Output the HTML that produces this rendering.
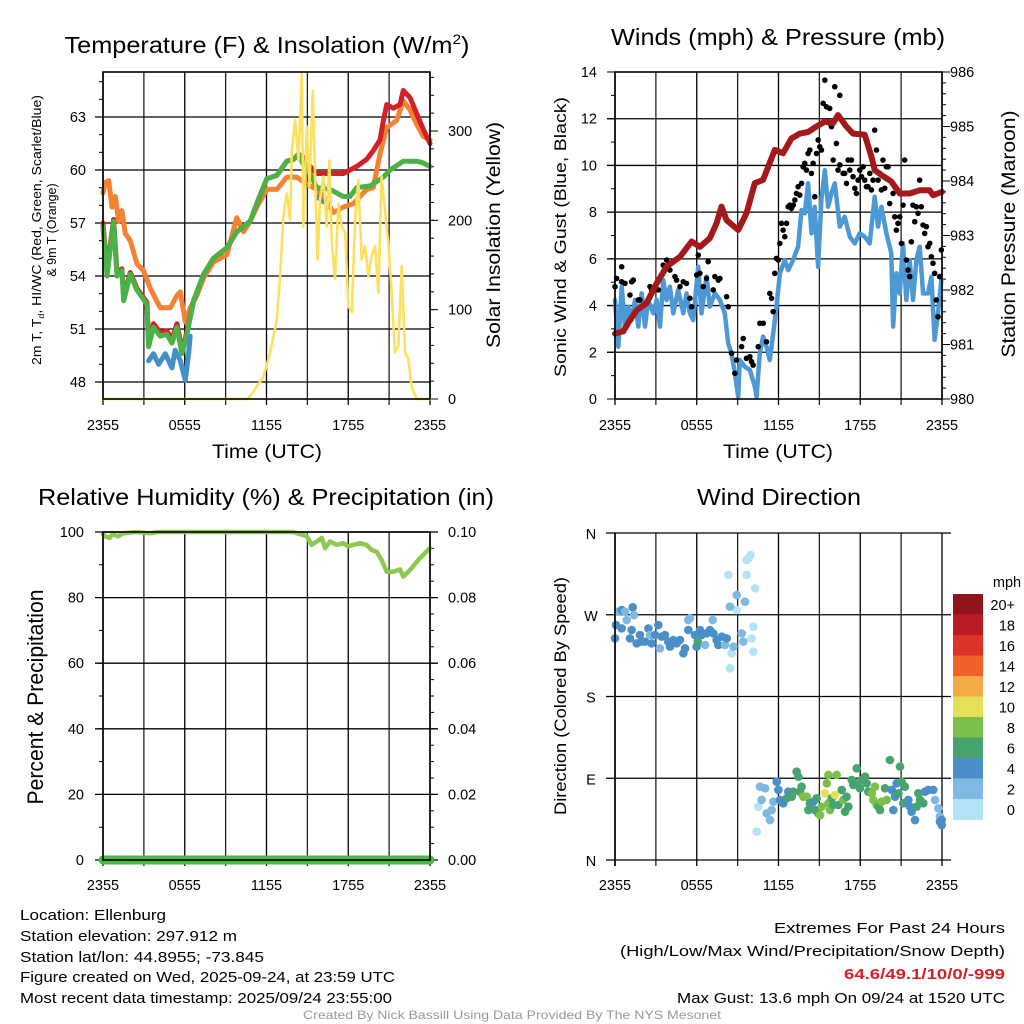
<!DOCTYPE html>
<html><head><meta charset="utf-8"><title>Ellenburg Meteogram</title>
<style>
html,body{margin:0;padding:0;background:#fff;}
svg{display:block;font-family:"Liberation Sans",Arial,sans-serif;}
</style></head>
<body>
<svg id="chart" width="1024" height="1024" viewBox="0 0 1024 1024" xmlns="http://www.w3.org/2000/svg">
<rect x="0" y="0" width="1024" height="1024" fill="#fff"/>
<!-- Titles -->
<text x="267" y="53" font-size="23" text-anchor="middle" textLength="405" lengthAdjust="spacingAndGlyphs">Temperature (F) &amp; Insolation (W/m<tspan font-size="14" dy="-9">2</tspan><tspan dy="9">)</tspan></text>
<text x="778" y="45" font-size="23" text-anchor="middle" textLength="334" lengthAdjust="spacingAndGlyphs">Winds (mph) &amp; Pressure (mb)</text>
<text x="266" y="505" font-size="23" text-anchor="middle" textLength="456" lengthAdjust="spacingAndGlyphs">Relative Humidity (%) &amp; Precipitation (in)</text>
<text x="779" y="505" font-size="23" text-anchor="middle" textLength="164" lengthAdjust="spacingAndGlyphs">Wind Direction</text>
<!-- Axis titles -->
<text transform="translate(41,230) rotate(-90)" font-size="12.5" text-anchor="middle" textLength="270" lengthAdjust="spacingAndGlyphs">2m T, T<tspan font-size="8" dy="3">d</tspan><tspan dy="-3">, HI/WC (Red, Green, Scarlet/Blue)</tspan></text>
<text transform="translate(56,230) rotate(-90)" font-size="12.5" text-anchor="middle">&amp; 9m T (Orange)</text>
<text transform="translate(500,235) rotate(-90)" font-size="19" text-anchor="middle" textLength="226" lengthAdjust="spacingAndGlyphs">Solar Insolation (Yellow)</text>
<text transform="translate(566,237) rotate(-90)" font-size="17" text-anchor="middle" textLength="280" lengthAdjust="spacingAndGlyphs">Sonic Wind &amp; Gust (Blue, Black)</text>
<text transform="translate(1015,234) rotate(-90)" font-size="19" text-anchor="middle" textLength="247" lengthAdjust="spacingAndGlyphs">Station Pressure (Maroon)</text>
<text transform="translate(43,697) rotate(-90)" font-size="22" text-anchor="middle" textLength="215" lengthAdjust="spacingAndGlyphs">Percent &amp; Precipitation</text>
<text transform="translate(566,696) rotate(-90)" font-size="17" text-anchor="middle" textLength="238" lengthAdjust="spacingAndGlyphs">Direction (Colored By Speed)</text>
<text x="267" y="458" font-size="19" text-anchor="middle" textLength="110" lengthAdjust="spacingAndGlyphs">Time (UTC)</text>
<text x="778" y="458" font-size="19" text-anchor="middle" textLength="110" lengthAdjust="spacingAndGlyphs">Time (UTC)</text>
<!-- Footer -->
<g font-size="15">
<text x="20" y="920" textLength="146" lengthAdjust="spacingAndGlyphs">Location: Ellenburg</text>
<text x="20" y="941" textLength="217" lengthAdjust="spacingAndGlyphs">Station elevation: 297.912 m</text>
<text x="20" y="962" textLength="244" lengthAdjust="spacingAndGlyphs">Station lat/lon: 44.8955; -73.845</text>
<text x="20" y="982" textLength="375" lengthAdjust="spacingAndGlyphs">Figure created on Wed, 2025-09-24, at 23:59 UTC</text>
<text x="20" y="1003" textLength="372" lengthAdjust="spacingAndGlyphs">Most recent data timestamp: 2025/09/24 23:55:00</text>
</g>
<g font-size="15" text-anchor="end">
<text x="1005" y="933" textLength="231" lengthAdjust="spacingAndGlyphs">Extremes For Past 24 Hours</text>
<text x="1005" y="956" textLength="385" lengthAdjust="spacingAndGlyphs">(High/Low/Max Wind/Precipitation/Snow Depth)</text>
<text x="1005" y="979" fill="#d42027" font-weight="bold" textLength="161" lengthAdjust="spacingAndGlyphs">64.6/49.1/10/0/-999</text>
<text x="1005" y="1003" textLength="328" lengthAdjust="spacingAndGlyphs">Max Gust: 13.6 mph On 09/24 at 1520 UTC</text>
</g>
<text x="512" y="1019" font-size="12" fill="#999" text-anchor="middle" textLength="418" lengthAdjust="spacingAndGlyphs">Created By Nick Bassill Using Data Provided By The NYS Mesonet</text>
</svg>
<script>
// ---------- DATA ----------
const timeTickHours = [0,3,6,9,12,15,18,21,24];
const timeTickLabels = ['2355','','0555','','1155','','1755','','2355'];
const tempTicks = [48,51,54,57,60,63];
const insolTicks = [0,100,200,300];
const windTicks = [0,2,4,6,8,10,12,14];
const pressTicks = [980,981,982,983,984,985,986];
const rhTicks = [0,20,40,60,80,100];
const precipTicks = ['0.00','0.02','0.04','0.06','0.08','0.10'];
const dirTickDeg = [0,90,180,270,360];
const dirTickLabels = ['N','E','S','W','N'];
const speedBinLabels = ['0','2','4','6','8','10','12','14','16','18','20+'];

const tempGreen = [[0,56.8],[0.3,54.0],[0.54,55.6],[0.78,57.1],[1.03,54.0],[1.39,54.3],[1.52,52.6],[2.0,54.1],[2.49,53.2],[3.23,52.4],[3.35,50.0],[3.71,51.1],[4.2,50.6],[4.69,50.7],[5.06,50.2],[5.43,51.1],[5.79,49.6],[6.16,50.7],[6.65,52.6],[7.38,54.1],[8.11,55.0],[9.09,55.6],[9.82,56.5],[10.31,56.8],[10.8,57.1],[11.29,58.1],[12.02,59.5],[12.76,59.7],[13.49,60.5],[13.98,60.6],[14.35,60.9],[14.71,60.3],[15.2,59.8],[15.69,59.0],[16.67,58.9],[17.64,58.5],[18.13,58.5],[18.62,59.0],[19.6,59.1],[20.58,59.6],[21.07,60.0],[22.04,60.5],[23.02,60.5],[23.51,60.4],[24,60.2]];
const tempRed = [[0,57.0],[0.3,54.2],[0.54,55.8],[0.78,57.2],[1.03,54.2],[1.39,54.4],[1.52,52.8],[2.0,54.2],[2.49,53.3],[3.23,52.5],[3.35,50.2],[3.71,51.3],[4.2,50.8],[4.69,50.9],[5.06,50.4],[5.43,51.3],[5.79,49.8],[6.16,50.8],[6.65,52.6],[7.38,54.1],[8.11,55.0],[9.09,55.6],[9.82,56.5],[10.31,56.8],[10.8,57.1],[11.29,58.1],[12.02,59.5],[12.76,59.7],[13.49,60.5],[13.98,60.6],[14.35,60.9],[14.71,60.7],[15.2,60.2],[15.69,59.8],[16.67,59.8],[17.64,59.8],[18.62,60.2],[19.35,60.6],[19.84,61.1],[20.33,61.7],[20.58,62.8],[20.82,63.7],[21.31,63.5],[21.8,63.7],[22.04,64.5],[22.53,64.1],[23.02,63.2],[23.51,62.3],[24,61.5]];
const tempOrange = [[0,58.7],[0.17,59.3],[0.42,59.4],[0.66,57.9],[0.9,58.5],[1.15,57.1],[1.39,57.7],[1.64,56.4],[2.0,56.0],[2.49,54.7],[2.98,54.3],[3.47,53.3],[4.2,52.2],[4.94,52.2],[5.43,52.9],[5.67,53.1],[6.04,51.4],[6.4,52.2],[6.89,52.9],[7.38,53.9],[8.11,54.8],[9.09,55.2],[9.82,57.3],[10.31,56.5],[10.8,57.1],[11.29,57.9],[12.02,58.9],[12.76,58.9],[13.49,59.6],[14.22,59.6],[14.96,59.2],[15.69,58.9],[16.18,58.5],[16.91,57.6],[17.64,57.9],[18.38,58.1],[18.87,58.5],[19.35,58.9],[19.84,59.0],[20.09,60.0],[20.33,60.9],[20.82,62.4],[21.55,62.8],[22.04,63.9],[22.53,63.4],[23.02,62.6],[23.51,61.9],[24,61.7]];
const windChillA = [[3.35,49.2],[3.71,49.6],[4.08,49.0],[4.57,49.6],[5.06,48.8],[5.3,49.8],[5.67,49.2],[6.04,48.1],[6.28,49.6],[6.4,50.6]];
const windChillB = [[15.69,58.5],[16.18,58.2],[16.54,58.1]];
const insolation = [[0,0],[10.56,0],[10.8,3],[11.29,14],[11.78,25],[12.27,52],[12.76,89],[13.0,137],[13.25,205],[13.49,230],[13.73,200],[13.86,278],[14.1,312],[14.35,267],[14.59,364],[14.71,193],[14.96,305],[15.15,238],[15.4,345],[15.57,249],[15.74,156],[15.93,223],[16.18,249],[16.42,193],[16.62,267],[16.79,175],[17.03,134],[17.28,219],[17.52,193],[17.77,186],[18.01,104],[18.26,97],[18.5,200],[18.74,245],[18.99,156],[19.23,171],[19.48,137],[19.72,160],[19.97,171],[20.21,119],[20.45,249],[20.7,212],[20.94,175],[21.19,119],[21.43,52],[21.68,60],[21.92,149],[22.17,52],[22.41,45],[22.65,14],[23.02,0],[24,0]];

const pressure = [[0,981.2],[0.61,981.24],[1.1,981.45],[1.59,981.63],[2.32,981.76],[3.05,982.12],[3.79,982.43],[4.77,982.61],[5.62,982.89],[6.23,982.79],[6.96,982.95],[7.45,983.22],[7.82,983.53],[8.19,983.28],[9.04,983.10],[9.65,983.41],[10.26,983.96],[10.87,984.02],[11.73,984.57],[12.34,984.51],[12.95,984.78],[13.56,984.87],[14.17,984.90],[14.78,985.0],[15.4,985.09],[16.01,985.06],[16.37,985.21],[16.98,985.0],[17.47,984.87],[18.33,984.85],[18.82,984.45],[19.06,984.20],[19.55,984.11],[20.28,983.99],[20.9,983.77],[21.63,983.77],[22.36,983.83],[23.09,983.83],[23.34,983.74],[24,983.80]];
const windSpeed = [[0,4.24],[0.24,2.24],[0.49,4.81],[0.73,3.10],[0.98,3.95],[1.22,3.38],[1.47,4.24],[1.71,3.10],[1.96,4.52],[2.2,3.10],[2.44,4.24],[2.81,3.67],[3.05,4.24],[3.3,3.10],[3.54,5.09],[3.79,4.24],[4.03,4.81],[4.28,3.67],[4.64,4.67],[5.01,3.67],[5.25,4.52],[5.5,3.67],[5.74,3.38],[6.11,5.66],[6.35,3.67],[6.72,5.24],[6.96,3.95],[7.33,4.52],[7.7,4.24],[8.06,3.67],[8.31,2.38],[8.55,1.96],[8.8,1.10],[9.04,0.10],[9.16,1.67],[9.53,1.38],[9.9,1.24],[10.26,0.53],[10.39,0.10],[10.63,1.96],[10.87,2.67],[11.12,2.24],[11.36,1.67],[11.61,2.81],[11.85,3.95],[12.1,5.38],[12.46,5.95],[12.71,5.52],[13.07,5.95],[13.44,6.52],[13.69,8.09],[13.93,7.95],[14.17,9.23],[14.42,7.09],[14.66,8.23],[14.91,5.66],[15.15,8.52],[15.4,9.80],[15.64,8.23],[15.89,8.81],[16.13,9.23],[16.5,7.38],[16.86,7.80],[17.23,6.95],[17.6,6.66],[17.96,7.09],[18.33,6.95],[18.69,6.66],[19.06,8.66],[19.3,7.38],[19.55,8.23],[19.92,7.09],[20.28,6.24],[20.41,3.10],[20.65,5.38],[20.9,4.52],[21.14,6.66],[21.38,4.24],[21.63,5.95],[21.87,4.24],[22.12,5.95],[22.36,6.52],[22.61,4.52],[22.97,4.52],[23.22,5.24],[23.46,2.53],[23.71,3.67],[23.95,5.09]];
const windGust = [[0,4.81],[0.12,5.16],[0.49,5.66],[0.49,5.02],[0.73,4.95],[1.10,4.45],[1.22,5.02],[1.34,5.09],[1.71,4.24],[1.83,4.24],[2.57,4.81],[2.69,4.67],[3.18,4.67],[3.54,5.73],[3.79,5.95],[4.03,5.52],[4.40,5.24],[4.52,5.09],[4.77,4.81],[5.01,5.02],[5.25,4.95],[5.50,4.31],[5.62,3.95],[5.99,5.31],[6.11,6.16],[6.23,5.38],[6.48,4.81],[6.72,5.16],[6.84,5.88],[7.21,4.67],[7.33,5.24],[7.58,5.09],[7.70,5.16],[8.19,4.38],[8.31,3.95],[8.55,1.96],[8.80,1.10],[8.92,1.67],[9.29,2.24],[9.41,2.59],[9.65,1.74],[9.90,1.81],[10.02,1.60],[10.14,1.45],[10.51,2.24],[10.63,3.24],[10.88,3.24],[11.12,2.45],[11.36,4.52],[11.49,4.31],[11.61,3.74],[11.73,5.38],[11.85,6.02],[11.98,5.95],[12.10,6.66],[12.22,7.52],[12.34,7.23],[12.46,6.95],[12.59,7.52],[12.71,8.23],[12.83,8.30],[12.95,8.16],[13.08,8.30],[13.20,8.52],[13.32,8.80],[13.44,9.09],[13.56,8.73],[13.69,9.23],[13.81,9.94],[13.93,10.09],[14.05,9.80],[14.17,10.51],[14.30,10.66],[14.42,9.66],[14.54,10.09],[14.66,8.66],[14.79,10.51],[14.91,11.09],[15.03,10.80],[15.15,10.66],[15.28,12.66],[15.40,13.65],[15.52,12.51],[15.76,12.44],[15.76,11.80],[15.89,11.66],[16.01,10.23],[16.13,13.37],[16.25,10.94],[16.37,9.80],[16.50,13.0],[16.50,10.02],[16.74,9.66],[16.86,9.66],[16.99,9.23],[17.11,10.23],[17.23,9.80],[17.35,10.23],[17.47,9.52],[17.60,9.02],[17.72,8.80],[17.84,9.37],[17.96,9.80],[18.09,9.52],[18.21,9.94],[18.33,9.37],[18.45,9.09],[18.57,9.09],[18.70,9.66],[18.82,8.95],[18.94,9.37],[19.06,11.51],[19.19,10.66],[19.31,9.37],[19.43,9.66],[19.55,8.95],[19.67,10.23],[19.80,9.02],[19.92,9.94],[20.04,9.94],[20.16,8.37],[20.41,8.80],[20.53,7.80],[20.65,7.23],[20.77,7.52],[20.90,7.80],[21.02,6.66],[21.14,8.30],[21.26,10.23],[21.39,5.95],[21.51,5.52],[21.63,5.24],[21.75,6.73],[21.87,8.30],[22.00,7.59],[22.12,8.23],[22.24,7.95],[22.36,9.37],[22.48,8.23],[22.61,7.45],[22.73,7.09],[22.85,7.38],[22.97,6.52],[23.10,6.66],[23.22,6.09],[23.34,5.81],[23.46,5.38],[23.58,4.24],[23.71,3.52],[23.83,5.24],[23.95,6.38]];

const relHumidity = [[0,99.2],[0.2,98.6],[0.49,98.2],[0.7,99.3],[1.1,98.7],[1.5,99.6],[2.44,100],[3.42,99.6],[4.0,100],[5.87,100],[8,100],[10,100],[12,100],[13.98,100],[14.58,99.2],[14.95,98.7],[15.32,96.1],[15.69,97.1],[16.05,98.2],[16.3,95.1],[16.66,97.1],[17.15,96.1],[17.64,96.6],[18.0,95.6],[18.37,96.1],[18.86,96.6],[19.35,96.1],[19.72,94.5],[20.08,94.0],[20.45,91.5],[20.82,87.9],[21.31,87.9],[21.8,88.6],[22.04,86.4],[22.53,88.4],[23.26,92.0],[24,95.1]];
const precipitation = [[0,0],[24,0]];

const dirObs = [[0,244,5],[0.07,258.7,5],[0.24,273.4,3],[0.49,275.2,5],[0.49,255,5],[0.73,273.4,3],[0.86,264.2,3],[1.10,244,5],[1.22,253.2,5],[1.30,278.2,5],[1.39,269.7,3],[1.59,238.5,5],[1.83,247.7,5],[1.96,240.4,5],[2.20,240.4,5],[2.45,255,5],[2.57,247.7,3],[2.69,238.5,5],[2.94,247.7,5],[3.18,258.7,5],[3.30,233,3],[3.43,245.9,5],[3.67,247.7,5],[3.91,240.4,5],[4.04,234.9,5],[4.28,242.2,5],[4.53,238.5,5],[4.77,242.2,5],[5.02,227.5,5],[5.14,233,5],[5.38,264.2,3],[5.50,266.1,3],[5.38,253.2,5],[5.87,247.7,5],[5.99,234.9,5],[6.07,240.4,7],[6.24,253.2,5],[6.36,247.7,5],[6.61,236.7,3],[6.73,249.5,5],[6.97,253.2,5],[7.17,264.2,3],[7.22,249.5,5],[7.46,242.2,5],[7.58,236.7,5],[7.83,245.9,5],[8.07,236.7,3],[8.20,244,5],[8.44,211,1],[8.56,227.5,1],[8.69,234.9,3],[8.93,275.2,1],[8.44,278.9,3],[8.32,313.8,1],[8.93,291.7,3],[9.54,284.4,3],[9.66,313.8,1],[10.28,299.1,1],[9.79,332.1,1],[9.96,335.8,1],[9.66,330.3,1],[10.15,256.9,1],[9.30,249.5,3],[9.42,240.4,3],[10.03,244,1],[10.15,229.4,1],
[10.40,31.2,1],[10.52,58.7,1],[10.64,80.7,3],[10.76,66.1,3],[11.01,78.9,3],[11.13,51.4,3],[11.38,44.0,3],[11.50,55.0,3],[11.62,64.2,3],[11.87,86.2,5],[11.99,77.1,5],[12.11,66.1,5],[12.35,62.4,5],[12.60,67.9,7],[12.72,75.2,5],[12.97,69.7,7],[13.09,75.2,7],[13.33,97.2,7],[13.46,91.7,7],[13.58,75.2,7],[13.70,80.7,7],[13.82,69.7,9],[14.07,69.7,9],[14.19,55.0,7],[14.31,62.4,7],[14.56,64.2,5],[14.68,55.0,7],[14.80,67.9,7],[14.92,51.4,7],[15.05,49.5,9],[15.17,58.7,9],[15.41,73.4,11],[15.54,84.4,9],[15.66,93.6,9],[15.66,62.4,9],[15.78,55.0,9],[15.90,67.9,7],[16.02,60.6,7],[16.15,71.6,11],[16.27,93.6,9],[16.39,60.6,7],[16.64,77.1,7],[16.76,66.1,9],[16.88,53.2,7],[17.00,69.7,7],[17.13,58.7,7],[17.37,88.1,7],[17.49,82.6,7],[17.61,84.4,7],[17.74,100.9,7],[17.98,78.9,7],[18.10,88.1,7],[18.35,91.7,7],[18.47,84.4,7],[18.59,75.2,7],[18.84,73.4,9],[19.08,80.7,9],[18.96,66.1,9],[19.20,60.6,9],[19.33,58.7,7],[19.45,55.0,7],[19.57,64.2,9],[19.82,78.9,7],[19.94,66.1,9],[20.18,110.1,7],[20.31,77.1,5],[20.43,55.0,5],[20.55,69.7,5],[20.67,84.4,5],[20.80,73.4,7],[20.92,102.8,7],[21.04,86.2,7],[21.16,62.4,7],[21.28,80.7,7],[21.53,66.1,5],[21.65,58.7,5],[21.77,53.2,5],[22.02,44.0,5],[22.14,58.7,7],[22.26,73.4,7],[22.39,66.1,7],[22.63,62.4,7],[22.75,75.2,5],[23.00,77.1,5],[23.36,77.1,5],[23.49,66.1,3],[23.73,56.9,3],[23.85,47.7,3],[23.98,44.0,5],[23.98,38.5,5],[23.85,42,5]];

const speedColors = ['#b5e3f6','#7fb9e3','#4a8fc8','#47a46f','#7bc04b','#e6e058','#f6a947','#ef6129','#dd3229','#ba1c25','#8f151b'];

// ---------- HELPERS ----------
const NS = 'http://www.w3.org/2000/svg';
const svg = document.getElementById('chart');
function mk(parent, tag, attrs) {
  const e = document.createElementNS(NS, tag);
  for (const k in attrs) e.setAttribute(k, attrs[k]);
  parent.appendChild(e);
  return e;
}
function lin(d0, d1, r0, r1) { return v => r0 + (v - d0) * (r1 - r0) / (d1 - d0); }
function pathD(pts, xs, ys) { return pts.map((p, i) => (i ? 'L' : 'M') + xs(p[0]).toFixed(1) + ',' + ys(p[1]).toFixed(1)).join(''); }
function txt(parent, x, y, s, anchor, size) {
  const t = mk(parent, 'text', {x: x, y: y, 'font-size': size || 14, 'text-anchor': anchor || 'middle'});
  t.textContent = s;
  return t;
}
function drawLine(parent, pts, xs, ys, color, width, name) {
  const p = mk(parent, 'path', {d: pathD(pts, xs, ys), fill: 'none', stroke: color, 'stroke-width': width, 'stroke-linejoin': 'round', 'stroke-linecap': 'round'});
  
  
  return p;
}

// Generic frame: vertical grid + bottom ticks + x labels
function timeAxis(g, xs, y0, y1, labelY) {
  timeTickHours.forEach((h, i) => {
    const x = xs(h);
    const gl = mk(g, 'line', {x1: x, y1: y0, x2: x, y2: y1 + 6, stroke: (i % 2 ? '#222' : '#000'), 'stroke-width': 1.3});
    
    
    if (timeTickLabels[i]) {
      const t = txt(g, x, labelY, timeTickLabels[i], 'middle', 14.5);
      
      
    }
  });
}
function frame(g, x0, x1, y0, y1) {
  const r = mk(g, 'rect', {x: x0, y: y0, width: x1 - x0, height: y1 - y0, fill: 'none', stroke: '#000', 'stroke-width': 1.6});
  
  
}
function hGrid(g, ys, vals, x0, x1, extL, extR) {
  vals.forEach(v => {
    const l = mk(g, 'line', {x1: x0 - extL, y1: ys(v), x2: x1 + extR, y2: ys(v), stroke: '#000', 'stroke-width': 1.3});
    
    
  });
}
function ticks(g, ys, from, to, step, x, dir, len) {
  for (let v = from; v <= to + 1e-9; v += step) {
    const l = mk(g, 'line', {x1: x, y1: ys(v), x2: x + dir * len, y2: ys(v), stroke: '#000', 'stroke-width': 1});
    
    
  }
}
function yLabels(g, ys, vals, labels, x, anchor) {
  vals.forEach((v, i) => {
    const t = txt(g, x, ys(v) + 5, labels[i], anchor, 14.5);
    
    
  });
}

// ---------- PANEL 1: TEMPERATURE ----------
{
  const g = mk(svg, 'g', {});
  
  
  const x0 = 103, x1 = 430, y0 = 72, y1 = 399;
  const xs = lin(0, 24, x0, x1);
  const yT = lin(48, 63, 382, 117);
  const yI = lin(0, 300, 399, 131);
  timeAxis(g, xs, y0, y1, 430);
  hGrid(g, yT, tempTicks, x0, x1, 8, 0);
  ticks(g, yT, 48, 65, 1, x0, -1, 4);
  ticks(g, yI, 0, 360, 20, x1, 1, 4);
  ticks(g, yI, 0, 300, 100, x1, 1, 8);
  yLabels(g, yT, tempTicks, tempTicks.map(String), 86, 'end');
  yLabels(g, yI, insolTicks, insolTicks.map(String), 448, 'start');
  drawLine(g, tempOrange, xs, yT, '#f58233', 5, 'temperature-9m-line');
  drawLine(g, tempRed, xs, yT, '#d62027', 5, 'temperature-2m-line');
  drawLine(g, tempGreen, xs, yT, '#4cb147', 5, 'dewpoint-line');
  drawLine(g, windChillA, xs, yT, '#418fcb', 5, 'wind-chill-line');
  drawLine(g, windChillB, xs, yT, '#418fcb', 5, 'wind-chill-line-late');
  drawLine(g, insolation, xs, yI, '#fde05e', 2.6, 'insolation-line');
  frame(g, x0, x1, y0, y1);
}

// ---------- PANEL 2: WINDS ----------
{
  const g = mk(svg, 'g', {});
  
  
  const x0 = 615, x1 = 942, y0 = 72, y1 = 399;
  const xs = lin(0, 24, x0, x1);
  const yW = lin(0, 14, 399, 72);
  const yP = lin(980, 986, 399, 72);
  timeAxis(g, xs, y0, y1, 430);
  hGrid(g, yW, windTicks.slice(1, 7), x0, x1, 8, 0);
  ticks(g, yW, 0, 14, 1, x0, -1, 4);
  ticks(g, yW, 0, 14, 2, x0, -1, 8);
  ticks(g, yP, 980, 986, 0.2, x1, 1, 4);
  ticks(g, yP, 980, 986, 1, x1, 1, 8);
  yLabels(g, yW, windTicks, windTicks.map(String), 597, 'end');
  yLabels(g, yP, pressTicks, pressTicks.map(String), 950, 'start');
  drawLine(g, windSpeed, xs, yW, '#4d99d6', 4.5, 'wind-speed-line');
  windGust.forEach(p => {
    const c = mk(g, 'circle', {cx: xs(p[0]), cy: yW(p[1]), r: 2.8, fill: '#000'});
    
    
  });
  drawLine(g, pressure, xs, yP, '#a3191c', 6, 'pressure-line');
  frame(g, x0, x1, y0, y1);
}

// ---------- PANEL 3: HUMIDITY ----------
{
  const g = mk(svg, 'g', {});
  
  
  const x0 = 103, x1 = 430, y0 = 532, y1 = 860;
  const xs = lin(0, 24, x0, x1);
  const yR = lin(0, 100, 860, 532);
  const yPr = lin(0, 0.1, 860, 532);
  timeAxis(g, xs, y0, y1, 890);
  hGrid(g, yR, rhTicks, x0, x1, 8, 8);
  ticks(g, yR, 0, 100, 10, x0, -1, 4);
  ticks(g, yPr, 0, 0.1, 0.005, x1, 1, 4);
  yLabels(g, yR, rhTicks, rhTicks.map(String), 84, 'end');
  yLabels(g, yPr, precipTicks.map(Number), precipTicks, 448, 'start');
  drawLine(g, relHumidity, xs, yR, '#8dc94e', 4.5, 'relative-humidity-line');
  drawLine(g, precipitation, xs, yPr, '#4cb848', 9, 'precipitation-line');
  frame(g, x0, x1, y0, y1);
}

// ---------- PANEL 4: WIND DIRECTION ----------
{
  const g = mk(svg, 'g', {});
  
  
  const x0 = 615, x1 = 942, y0 = 533, y1 = 860;
  const xs = lin(0, 24, x0, x1);
  const yD = lin(0, 360, 860, 533);
  timeAxis(g, xs, y0, y1, 890);
  hGrid(g, yD, dirTickDeg, x0, x1, 9, 9);
  dirTickDeg.forEach((d, i) => {
    const t = txt(g, 591, yD(d) + 6, dirTickLabels[i], 'middle', 14.5);
    
    
  });
  dirObs.forEach(o => {
    const bin = Math.min(10, Math.floor(o[2] / 2));
    const c = mk(g, 'circle', {cx: xs(o[0]), cy: yD(o[1]), r: 4.3, fill: speedColors[bin]});
    
    
  });
  const lx = mk(g, 'line', {x1: x0, y1: y0, x2: x0, y2: y1 + 6, stroke: '#000', 'stroke-width': 1.6});
  
  

  // colorbar
  const cb = mk(g, 'g', {});
  
  
  const cbTop = 594, cbH = 20.5;
  const mph = txt(cb, 1007, 587, 'mph', 'middle', 14.5);
  
  
  for (let i = 0; i < speedColors.length; i++) {
    const idx = speedColors.length - 1 - i;
    const r = mk(cb, 'rect', {x: 953, y: cbTop + i * cbH, width: 30, height: cbH + 0.5, fill: speedColors[idx]});
    
    
    const t = txt(cb, 1015, cbTop + i * cbH + cbH / 2 + 5.5, speedBinLabels[idx], 'end', 14.5);
    
    
  }
}
</script>
</body></html>
